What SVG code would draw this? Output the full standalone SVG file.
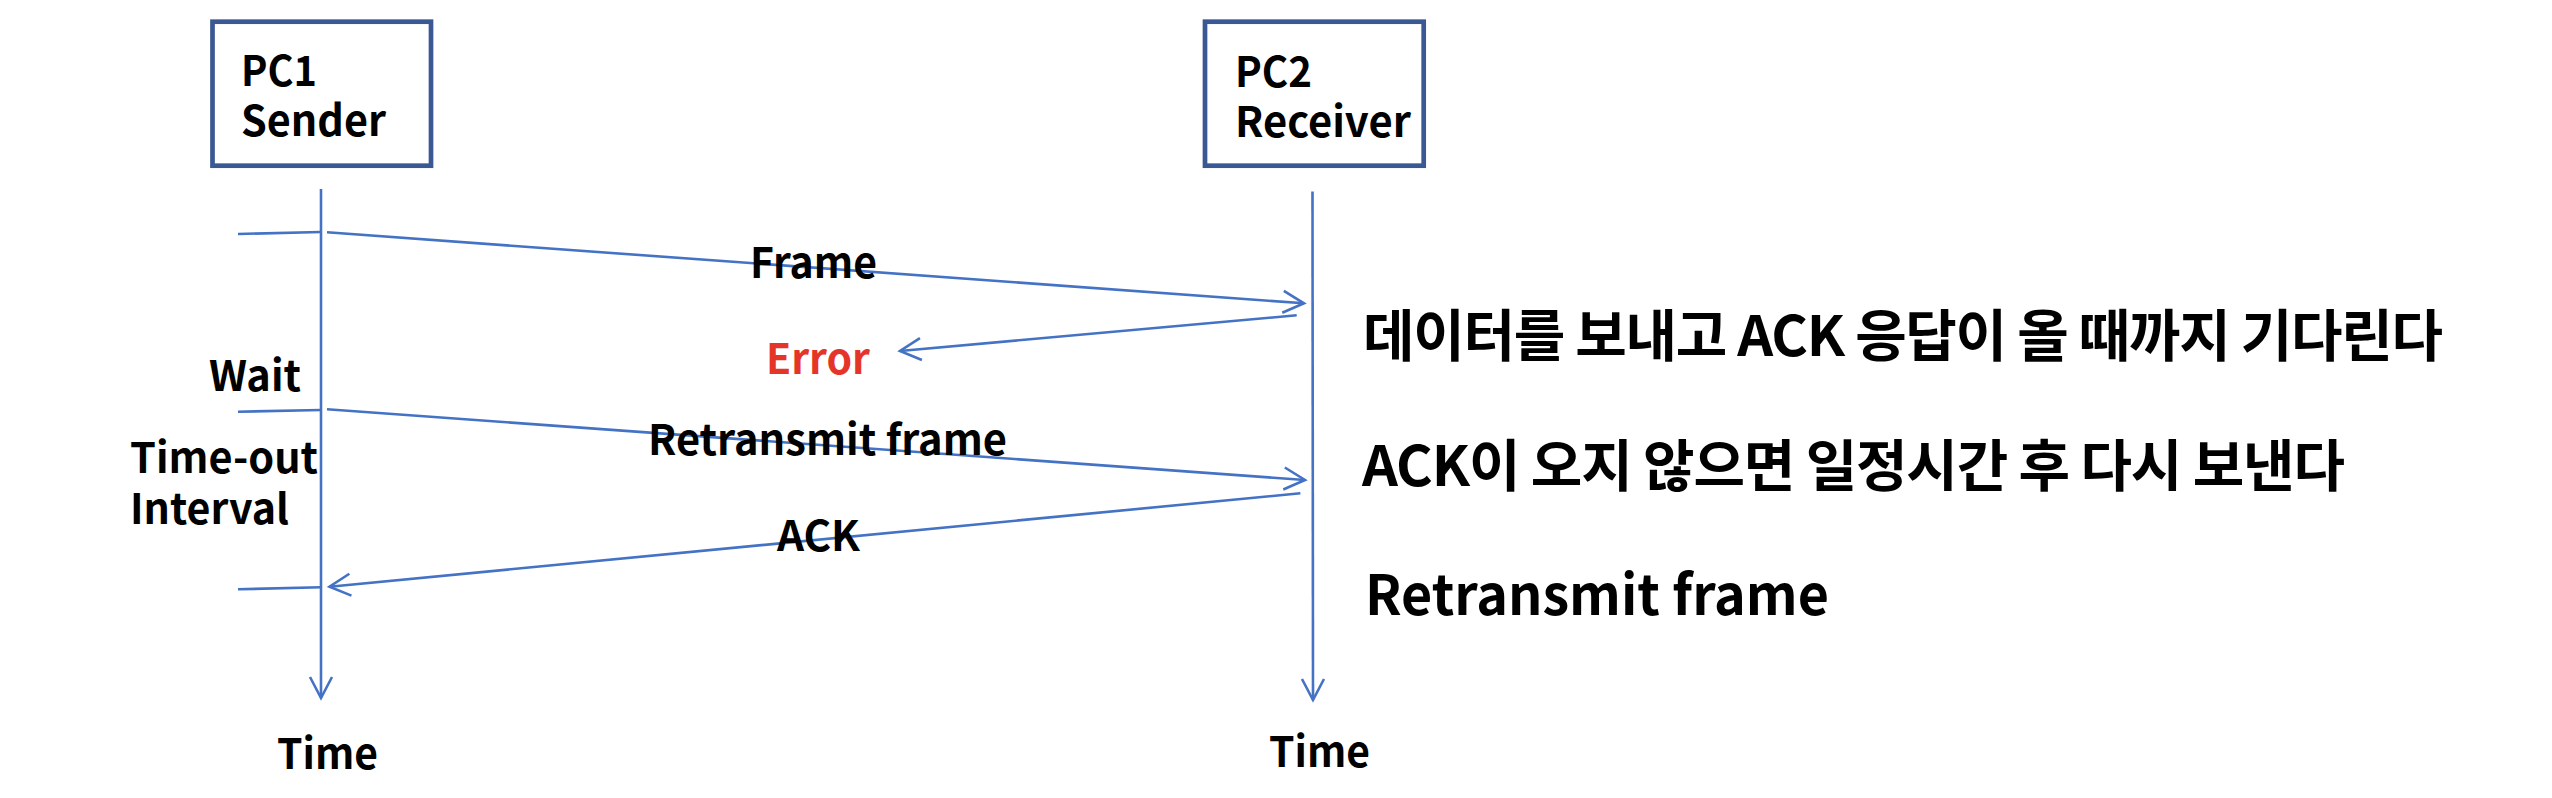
<svg xmlns="http://www.w3.org/2000/svg" width="2552" height="798" viewBox="0 0 2552 798">
<style>
  .t { font-family: "Noto Sans CJK KR", "Noto Sans", sans-serif; font-weight: 700; fill: #000; }
  .s44 { font-size: 42px; }
  .s56 { font-size: 56px; }
  .red { fill: #E53529; }
  .box { fill: #fff; stroke: #3A5894; stroke-width: 4.7; }
  .ln { fill: none; stroke: #4472C4; stroke-width: 2.6; }
</style>
<defs>
  <marker id="arr" viewBox="-25 -14 28 28" refX="0" refY="0" markerWidth="28" markerHeight="28" markerUnits="userSpaceOnUse" orient="auto">
    <path d="M-21,-11 L0,0 L-21,11" fill="none" stroke="#4472C4" stroke-width="2.6"/>
  </marker>
</defs>
<rect width="2552" height="798" fill="#fff"/>

<g id="pc1">
  <rect class="box" x="212.5" y="21.7" width="218.5" height="144"/>
  <text class="t s44" x="241" y="86" textLength="76" lengthAdjust="spacingAndGlyphs">PC1</text>
  <text class="t s44" x="241" y="136" textLength="145" lengthAdjust="spacingAndGlyphs">Sender</text>
</g>
<g id="pc2">
  <rect class="box" x="1205" y="21.7" width="218.7" height="144"/>
  <text class="t s44" x="1235" y="87" textLength="77" lengthAdjust="spacingAndGlyphs">PC2</text>
  <text class="t s44" x="1235" y="137" textLength="176" lengthAdjust="spacingAndGlyphs">Receiver</text>
</g>

<g id="connectors">
  <line class="ln" x1="321" y1="189" x2="321" y2="698" marker-end="url(#arr)"/>
  <line class="ln" x1="1312.5" y1="191.5" x2="1313" y2="700" marker-end="url(#arr)"/>
  <line class="ln" x1="238" y1="234" x2="321" y2="232"/>
  <line class="ln" x1="327" y1="232.3" x2="1304" y2="303.3" marker-end="url(#arr)"/>
  <line class="ln" x1="1296.7" y1="315.3" x2="900" y2="351" marker-end="url(#arr)"/>
  <line class="ln" x1="238" y1="411.7" x2="321" y2="410"/>
  <line class="ln" x1="327" y1="409.3" x2="1305" y2="480" marker-end="url(#arr)"/>
  <line class="ln" x1="1300.4" y1="493.3" x2="329.5" y2="586.7" marker-end="url(#arr)"/>
  <line class="ln" x1="238" y1="589.3" x2="321" y2="587.3"/>
</g>

<g id="labels">
  <text class="t s44" x="750" y="278" textLength="127" lengthAdjust="spacingAndGlyphs">Frame</text>
  <text class="t s44 red" x="766" y="374" textLength="104" lengthAdjust="spacingAndGlyphs">Error</text>
  <text class="t s44" x="209" y="391" textLength="92" lengthAdjust="spacingAndGlyphs">Wait</text>
  <text class="t s44" x="130" y="473" textLength="188" lengthAdjust="spacingAndGlyphs">Time-out</text>
  <text class="t s44" x="130" y="524" textLength="159" lengthAdjust="spacingAndGlyphs">Interval</text>
  <text class="t s44" x="648" y="455" textLength="359" lengthAdjust="spacingAndGlyphs">Retransmit frame</text>
  <text class="t s44" x="777" y="551" textLength="83" lengthAdjust="spacingAndGlyphs">ACK</text>
  <text class="t s44" x="277" y="769" textLength="101" lengthAdjust="spacingAndGlyphs">Time</text>
  <text class="t s44" x="1269" y="767" textLength="101" lengthAdjust="spacingAndGlyphs">Time</text>
</g>

<g id="notes">
  <text class="t s56" x="1363" y="356" textLength="1080" lengthAdjust="spacing">데이터를 보내고 ACK 응답이 올 때까지 기다린다</text>
  <text class="t s56" x="1362" y="486" textLength="983" lengthAdjust="spacing">ACK이 오지 않으면 일정시간 후 다시 보낸다</text>
  <text class="t s56" x="1365" y="615" textLength="464" lengthAdjust="spacingAndGlyphs">Retransmit frame</text>
</g>
</svg>
